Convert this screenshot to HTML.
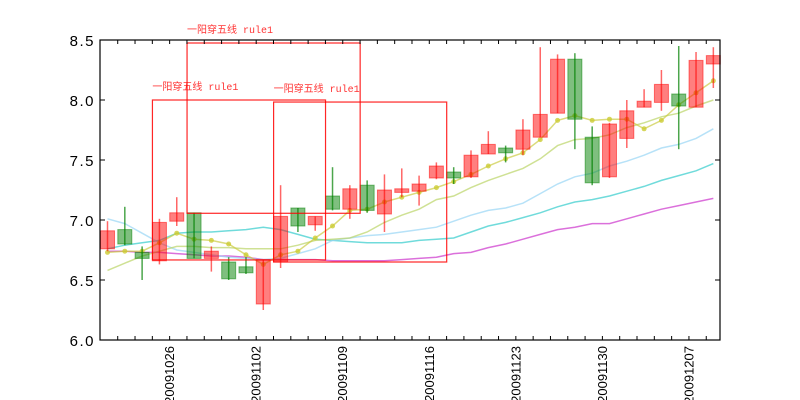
<!DOCTYPE html>
<html><head><meta charset="utf-8">
<style>
html,body{margin:0;padding:0;background:#fff;}
svg{display:block;font-family:"Liberation Sans","Noto Sans CJK SC",sans-serif;}
</style></head>
<body>
<svg id="chart" width="800" height="400" viewBox="0 0 800 400" xmlns="http://www.w3.org/2000/svg">
<rect x="0" y="0" width="800" height="400" fill="#fff"/>
<g id="plot"></g>
</svg>
<script>
const opens  = [6.76,6.92,6.73,6.66,6.99,7.06,6.68,6.65,6.61,6.30,6.65,7.10,6.96,7.20,7.09,7.29,7.05,7.23,7.24,7.35,7.40,7.36,7.55,7.60,7.59,7.69,7.89,8.34,7.69,7.36,7.68,7.94,7.98,8.05,7.94,8.30];
const closes = [6.91,6.80,6.68,6.98,7.06,6.68,6.74,6.51,6.56,6.67,7.03,6.95,7.03,7.09,7.26,7.08,7.25,7.26,7.30,7.45,7.35,7.54,7.63,7.56,7.75,7.88,8.34,7.84,7.31,7.80,7.91,7.99,8.13,7.95,8.33,8.37];
const highs  = [6.99,7.11,6.78,7.01,7.19,7.06,6.78,6.69,6.69,6.67,7.29,7.10,7.03,7.44,7.29,7.33,7.38,7.43,7.37,7.48,7.44,7.58,7.74,7.62,7.84,8.44,8.38,8.39,7.78,7.81,8.00,8.09,8.25,8.45,8.40,8.44];
const lows   = [6.74,6.79,6.50,6.63,6.95,6.68,6.57,6.50,6.55,6.25,6.60,6.90,6.91,7.08,7.01,7.06,6.90,7.19,7.12,7.34,7.30,7.35,7.55,7.48,7.54,7.69,7.89,7.59,7.29,7.35,7.60,7.94,7.91,7.59,7.94,8.10];
const maMarked = [6.73,6.74,6.74,6.81,6.89,6.84,6.83,6.80,6.71,6.63,6.71,6.74,6.85,6.95,7.08,7.09,7.15,7.19,7.23,7.27,7.32,7.38,7.45,7.51,7.56,7.67,7.83,7.87,7.83,7.84,7.84,7.76,7.83,7.96,8.06,8.16];
const maGreen = [6.58,6.64,6.70,6.74,6.78,6.78,6.77,6.77,6.76,6.76,6.76,6.79,6.83,6.84,6.85,6.90,6.98,7.04,7.09,7.17,7.20,7.27,7.33,7.38,7.43,7.51,7.62,7.67,7.68,7.71,7.77,7.81,7.86,7.89,7.95,8.00];
const maBlue = [7.01,6.97,6.89,6.81,6.75,6.73,6.71,6.69,6.68,6.67,6.68,6.72,6.76,6.83,6.85,6.87,6.88,6.90,6.92,6.94,6.99,7.04,7.08,7.10,7.14,7.22,7.30,7.36,7.39,7.45,7.49,7.54,7.60,7.63,7.68,7.76];
const maCyan = [6.76,6.79,6.81,6.83,6.89,6.90,6.90,6.91,6.92,6.94,6.92,6.88,6.84,6.83,6.82,6.81,6.81,6.81,6.83,6.84,6.85,6.90,6.95,6.98,7.02,7.06,7.11,7.15,7.17,7.20,7.24,7.28,7.33,7.37,7.41,7.47];
const maMagenta = [6.74,6.74,6.73,6.73,6.72,6.71,6.70,6.70,6.69,6.67,6.67,6.67,6.67,6.66,6.66,6.66,6.66,6.67,6.68,6.69,6.72,6.73,6.77,6.80,6.84,6.88,6.92,6.94,6.97,6.97,7.01,7.05,7.09,7.12,7.15,7.18];
const yTicks = [6.0,6.5,7.0,7.5,8.0,8.5];
const yTickLabels = ["6.0","6.5","7.0","7.5","8.0","8.5"];
const xTickIndex = [3,8,13,18,23,28,33];
const xTickLabels = ["20091026","20091102","20091109","20091116","20091123","20091130","20091207"];
const ruleStarts = [3,5,10];
const ruleTops = [8.0,8.475,7.983];
const ruleBottoms = [6.667,7.056,6.65];
const ruleLabels = ["一阳穿五线 rule1","一阳穿五线 rule1","一阳穿五线 rule1"];

const NS="http://www.w3.org/2000/svg";
const L=100,R=720,T=40,B=340;
const STEP=17.31;
function xs(i){return 107.5+i*STEP;}
function ys(v){return T+(8.5-v)*(B-T)/2.5;}
const plot=document.getElementById('plot');
function mk(tag,attrs,parent){const e=document.createElementNS(NS,tag);for(const k in attrs)e.setAttribute(k,attrs[k]);(parent||plot).appendChild(e);return e;}

function line(arr,color,name,width){
  const p=mk('polyline',{points:arr.map((v,i)=>xs(i)+','+ys(v)).join(' '),fill:'none',stroke:color,'stroke-width':width||1.5,'stroke-opacity':0.7});
  
  
  return p;
}
line(maMagenta,'#cc33cc','ma-magenta-line');
line(maCyan,'#33cccc','ma-cyan-line');
line(maBlue,'#99d6f5','ma-blue-line');
line(maGreen,'#bbd466','ma-green-line');
line(maMarked,'#cccc44','ma-marked-line');
maMarked.forEach((v,i)=>{
  const c=mk('circle',{cx:xs(i),cy:ys(v),r:2.5,fill:'#cccc33','fill-opacity':0.8});
  
  
});

opens.forEach((o,i)=>{
  const c=closes[i];const up=c>=o;const col=up?'#ff0000':'#008000';
  const g=mk('g',{});
  
  
  mk('line',{x1:xs(i),x2:xs(i),y1:ys(highs[i]),y2:ys(lows[i]),stroke:col,'stroke-width':1.5,'stroke-opacity':up?0.6:0.7},g);
  const top=ys(Math.max(o,c)),bot=ys(Math.min(o,c));
  mk('rect',{x:xs(i)-7,y:top,width:14,height:Math.max(bot-top,1),fill:col,'fill-opacity':0.5,stroke:col,'stroke-opacity':0.5,'stroke-width':1},g);
});

ruleStarts.forEach((s,k)=>{
  const x0=xs(s)-7,y0=ys(ruleTops[k]),y1=ys(ruleBottoms[k]);
  const r=mk('rect',{x:x0,y:y0,width:10*STEP,height:y1-y0,fill:'none',stroke:'#ff0000','stroke-width':1.2,'stroke-opacity':0.85});
  
  
  const t=mk('text',{x:x0,y:y0-10,fill:'#ff3333','font-size':10,'font-family':'"Liberation Mono","Noto Sans CJK SC",monospace'});
  t.textContent=ruleLabels[k];
  
  
});

const fr=mk('rect',{x:L,y:T,width:R-L,height:B-T,fill:'none',stroke:'#000','stroke-width':1.2});



yTicks.forEach((v,k)=>{
  const y=ys(v);
  mk('line',{x1:L,x2:L+5,y1:y,y2:y,stroke:'#000'});
  mk('line',{x1:R,x2:R-5,y1:y,y2:y,stroke:'#000'});
  const t=mk('text',{x:95,y:y+6,'text-anchor':'end','font-size':15,'letter-spacing':'1.5',fill:'#000'});
  t.textContent=yTickLabels[k];
  
  
});
for(let k=0;k<35;k++){
  const x=xs(k+0.59);
  mk('line',{x1:x,x2:x,y1:B,y2:B-4,stroke:'#000'});
  mk('line',{x1:x,x2:x,y1:T,y2:T+4,stroke:'#000'});
}
xTickIndex.forEach((idx,k)=>{
  const x=xs(idx+0.59);
  const t=mk('text',{x:0,y:0,'text-anchor':'end','font-size':13,fill:'#000',transform:'translate('+(x+4.5)+','+(B+6)+') rotate(-90)'});
  t.textContent=xTickLabels[k];
  
  
});
</script>
</body></html>
